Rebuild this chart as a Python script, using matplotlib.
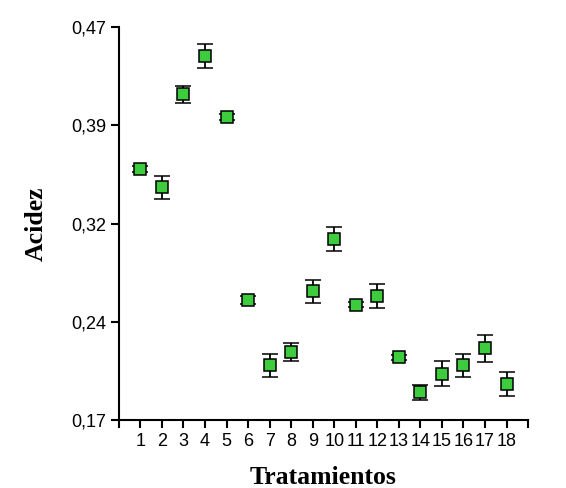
import numpy as np
import matplotlib
matplotlib.use("Agg")
import matplotlib.pyplot as plt

# acidez por tratamiento (media y error)
tratamientos = np.arange(1, 19)
acidez = [0.3616, 0.3476, 0.4186, 0.4479, 0.4013, 0.2616, 0.2117, 0.2219, 0.2682,
          0.3082, 0.2580, 0.2647, 0.2178, 0.1911, 0.2053, 0.2117, 0.2247, 0.1977]
error = [0.002, 0.009, 0.0066, 0.009, 0.002, 0.003, 0.009, 0.007, 0.009,
         0.009, 0.002, 0.0095, 0.002, 0.006, 0.0095, 0.009, 0.0105, 0.009]
yticks = [0.17, 0.245, 0.32, 0.395, 0.47]
ytick_labels = ["0,17", "0,24", "0,32", "0,39", "0,47"]

fig = plt.figure(figsize=(5.66, 4.88), dpi=100)

ax = fig.add_axes([0.210, 0.1393, 0.723, 0.8054])

ax.errorbar(tratamientos, acidez, yerr=error, fmt="s", color="black",
            ecolor="black", elinewidth=1.3, capsize=5.5, capthick=1.3,
            markerfacecolor="#3dcc3d", markeredgecolor="black",
            markeredgewidth=1.1, markersize=8)

ax.set_xlim(0, 19)
ax.set_ylim(0.17, 0.47)
ax.set_xticks(range(0, 20))
ax.set_xticklabels([""] + [str(t) for t in tratamientos] + [""])
ax.set_yticks(yticks)
ax.set_yticklabels(ytick_labels)

for s in ["top", "right"]:
    ax.spines[s].set_visible(False)
for s in ["left", "bottom"]:
    ax.spines[s].set_linewidth(1.5)
ax.tick_params(direction="out", width=1.5, length=6, labelsize=13, pad=3)
for lab in ax.get_xticklabels() + ax.get_yticklabels():
    lab.set_family("Liberation Sans")

ax.set_xlabel("Tratamientos", family="Liberation Serif", fontweight="bold",
              fontsize=18.5, labelpad=12)
ax.set_ylabel("Acidez", family="Liberation Serif", fontweight="bold",
              fontsize=18.5, labelpad=17)

fig.savefig("out.png", dpi=100)
